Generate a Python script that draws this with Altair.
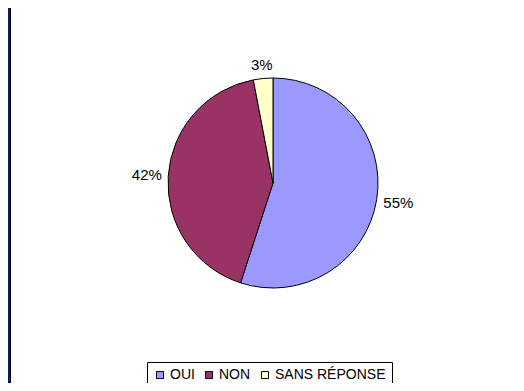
import altair as alt
import pandas as pd

categories = ["OUI", "NON", "SANS RÉPONSE"]
values = [55, 42, 3]
labels = ["55%", "42%", "3%"]
colors = ["#9999FF", "#993366", "#FFFFCC"]

df = pd.DataFrame({
    "cat": categories,
    "val": values,
    "lab": labels,
    "ord": list(range(len(categories))),
})

W, H = 508, 375
CX, CY = 265, 175
R = 105
FONT = "Liberation Sans"

pie = alt.Chart(df).mark_arc(outerRadius=R, stroke="black", strokeWidth=1).encode(
    theta=alt.Theta("val:Q", stack=True),
    order=alt.Order("ord:Q"),
    x=alt.value(CX),
    y=alt.value(CY),
    color=alt.Color(
        "cat:N",
        scale=alt.Scale(domain=categories, range=colors),
        legend=alt.Legend(
            title=None,
            orient="none",
            legendX=139,
            legendY=354,
            direction="horizontal",
            strokeColor="black",
            padding=6,
            symbolType="square",
            symbolSize=50,
            symbolStrokeColor="black",
            symbolStrokeWidth=1,
            labelFont=FONT,
            labelFontSize=14,
            labelColor="black",
            labelOffset=3,
            columnPadding=7,
        ),
    ),
)

# labels placed just outside the pie: label box edge ~6px beyond the rim
text = (
    alt.Chart(df)
    .transform_joinaggregate(total="sum(val)")
    .transform_window(cum="sum(val)", sort=[alt.SortField("ord")], frame=[None, 0])
    .transform_calculate(
        mid="(datum.cum - datum.val / 2) / datum.total * 2 * PI",
    )
    .transform_calculate(
        rr=f"{R + 6} + length(datum.lab) * 5 * abs(sin(datum.mid)) + 7 * abs(cos(datum.mid))"
    )
    .mark_text(fontSize=15, font=FONT, color="black")
    .encode(
        theta=alt.Theta("mid:Q", scale=None, stack=False),
        radius=alt.Radius("rr:Q", scale=None),
        x=alt.value(CX),
        y=alt.value(CY),
        text="lab:N",
    )
)

band = alt.Chart(df).mark_rect(color="#002060").encode(
    x=alt.value(0), x2=alt.value(2), y=alt.value(0), y2=alt.value(H)
)
edge = alt.Chart(df).mark_rule(color="black", strokeWidth=1).encode(
    x=alt.value(2.5), y=alt.value(0), y2=alt.value(H)
)

chart = alt.layer(band, edge, pie, text).properties(
    width=W, height=H, padding=0, autosize=alt.AutoSizeParams(type="none"),
    background="white",
).configure_view(stroke=None)

chart.save("out.html", embed_options={"renderer": "svg", "actions": False})
